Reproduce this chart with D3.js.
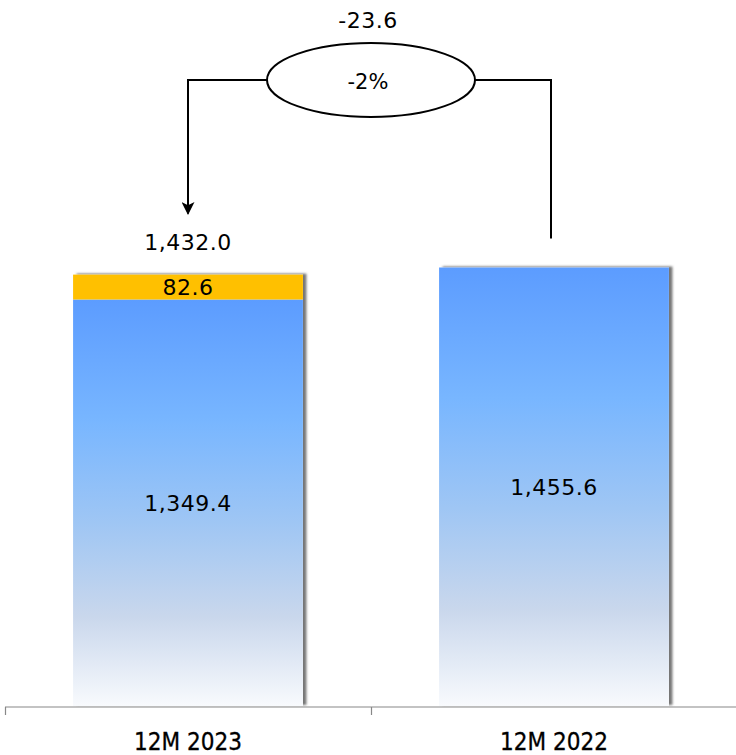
<!DOCTYPE html>
<html>
<head>
<meta charset="utf-8">
<script src="https://cdn.jsdelivr.net/npm/d3@7"></script>
<style>
  body { margin: 0; background: #fff; }
  text { font-family: "DejaVu Sans", Verdana, sans-serif; fill: #000; }
  .axis-label { font-family: "DejaVu Sans Condensed", "DejaVu Sans", sans-serif; }
</style>
</head>
<body>
<div id="chart"></div>
<script>
// chart data
const categories = ['12M 2023', '12M 2022'];
const baseValues = [1349.4, 1455.6];
const extraValues = [82.6, 0];
const deltaValue = '-23.6';
const deltaPct = '-2%';

const width = 736, height = 755;
const baseline = 706;

const svg = d3.select('#chart').append('svg')
    .attr('width', width)
    .attr('height', height);

const defs = svg.append('defs');

// blue fade for the bars
const grad = defs.append('linearGradient')
    .attr('id', 'barGrad')
    .attr('x1', 0).attr('y1', 0).attr('x2', 0).attr('y2', 1);
grad.append('stop').attr('offset', '0%').attr('stop-color', '#5c9cff');
grad.append('stop').attr('offset', '30%').attr('stop-color', '#78b6ff');
grad.append('stop').attr('offset', '55%').attr('stop-color', '#9fc6f4');
grad.append('stop').attr('offset', '78%').attr('stop-color', '#c9d7ec');
grad.append('stop').attr('offset', '100%').attr('stop-color', '#f8fafd');

const shadow = defs.append('filter')
    .attr('id', 'shadow')
    .attr('x', '-5%').attr('y', '-5%').attr('width', '115%').attr('height', '110%');
shadow.append('feDropShadow')
    .attr('dx', 3.5).attr('dy', -1)
    .attr('stdDeviation', 1.2)
    .attr('flood-color', '#666')
    .attr('flood-opacity', 0.9);

const marker = defs.append('marker')
    .attr('id', 'arrow')
    .attr('viewBox', '0 0 10 10')
    .attr('refX', 9).attr('refY', 5)
    .attr('markerWidth', 15).attr('markerHeight', 13)
    .attr('markerUnits', 'userSpaceOnUse')
    .attr('orient', 'auto');
marker.append('path').attr('d', 'M0,0 L10,5 L0,10 L2.5,5 Z').attr('fill', '#000');

// scales
const xScale = d3.scaleBand()
    .domain(categories)
    .range([5, 737]);

const yScale = d3.scaleLinear()
    .domain([0, 1600])
    .range([baseline, baseline - 1600 * 0.30125]);

const barW = xScale.bandwidth() * 0.628;
const cx = d => xScale(d) + xScale.bandwidth() / 2;

const data = categories.map((c, i) => ({
    cat: c,
    base: baseValues[i],
    extra: extraValues[i],
    total: baseValues[i] + extraValues[i]
}));

// axis
const axisG = svg.append('g')
    .attr('transform', `translate(0,${baseline + 1})`);
axisG.append('line')
    .attr('x1', xScale.range()[0]).attr('x2', width)
    .attr('stroke', '#888').attr('stroke-width', 1.2);
axisG.selectAll('.tick-mark')
    .data(categories.concat(['end']))
    .join('line')
    .attr('class', 'tick-mark')
    .attr('x1', (d, i) => xScale.range()[0] + i * xScale.step() + 0.5)
    .attr('x2', (d, i) => xScale.range()[0] + i * xScale.step() + 0.5)
    .attr('y1', 0).attr('y2', 8)
    .attr('stroke', '#888').attr('stroke-width', 1.2);
axisG.selectAll('.axis-label')
    .data(categories)
    .join('text')
    .attr('class', 'axis-label')
    .attr('x', d => cx(d))
    .attr('y', 43)
    .attr('text-anchor', 'middle')
    .attr('font-size', 24)
    .attr('stroke', '#000').attr('stroke-width', 0.3)
    .text(d => d);

// bars
const bars = svg.append('g');
bars.selectAll('.bar')
    .data(data)
    .join('rect')
    .attr('class', 'bar')
    .attr('x', d => cx(d.cat) - barW / 2)
    .attr('y', d => yScale(d.total))
    .attr('width', barW)
    .attr('height', d => baseline - yScale(d.total))
    .attr('fill', '#fff')
    .attr('filter', 'url(#shadow)');

bars.selectAll('.bar-base')
    .data(data)
    .join('rect')
    .attr('class', 'bar-base')
    .attr('x', d => cx(d.cat) - barW / 2)
    .attr('y', d => yScale(d.base))
    .attr('width', barW)
    .attr('height', d => baseline - yScale(d.base))
    .attr('fill', 'url(#barGrad)');

bars.selectAll('.bar-extra')
    .data(data.filter(d => d.extra > 0))
    .join('rect')
    .attr('class', 'bar-extra')
    .attr('x', d => cx(d.cat) - barW / 2)
    .attr('y', d => yScale(d.total))
    .attr('width', barW)
    .attr('height', d => yScale(d.base) - yScale(d.total))
    .attr('fill', '#ffc000');

const fmt = d3.format(',.1f');

// labels
svg.selectAll('.base-label')
    .data(data)
    .join('text')
    .attr('class', 'base-label')
    .attr('x', d => cx(d.cat))
    .attr('y', d => (yScale(d.base) + baseline) / 2 + 8)
    .attr('text-anchor', 'middle')
    .attr('font-size', 22)
    .attr('letter-spacing', 0.5)
    .text(d => fmt(d.base));

svg.selectAll('.extra-label')
    .data(data.filter(d => d.extra > 0))
    .join('text')
    .attr('class', 'extra-label')
    .attr('x', d => cx(d.cat))
    .attr('y', d => (yScale(d.base) + yScale(d.total)) / 2 + 8)
    .attr('text-anchor', 'middle')
    .attr('font-size', 22)
    .attr('letter-spacing', 0.5)
    .text(d => fmt(d.extra));

// total above first bar
svg.append('text')
    .attr('x', cx(categories[0]))
    .attr('y', yScale(data[0].total) - 25)
    .attr('text-anchor', 'middle')
    .attr('font-size', 22)
    .attr('letter-spacing', 0.5)
    .text(fmt(data[0].total));

// change bubble
const ex = (cx(categories[0]) + cx(categories[1])) / 2;
const ey = 80, rx = 104, ry = 37;
const leftX = cx(categories[0]);
const rightX = cx(categories[1]) - 3;

svg.append('path')
    .attr('d', `M${ex - rx},${ey} H${leftX} V${yScale(data[0].total) - 61}`)
    .attr('fill', 'none')
    .attr('stroke', '#000')
    .attr('stroke-width', 2)
    .attr('marker-end', 'url(#arrow)');

svg.append('path')
    .attr('d', `M${ex + rx},${ey} H${rightX} V${yScale(data[1].total) - 29}`)
    .attr('fill', 'none')
    .attr('stroke', '#000')
    .attr('stroke-width', 2);

svg.append('ellipse')
    .attr('cx', ex).attr('cy', ey)
    .attr('rx', rx).attr('ry', ry)
    .attr('fill', '#fff')
    .attr('stroke', '#000')
    .attr('stroke-width', 2);

svg.append('text')
    .attr('x', ex - 3)
    .attr('y', 89)
    .attr('text-anchor', 'middle')
    .attr('font-size', 21)
    .text(deltaPct);

svg.append('text')
    .attr('x', ex - 3)
    .attr('y', 28)
    .attr('text-anchor', 'middle')
    .attr('font-size', 22)
    .attr('letter-spacing', 0.5)
    .text(deltaValue);
</script>
</body>
</html>
